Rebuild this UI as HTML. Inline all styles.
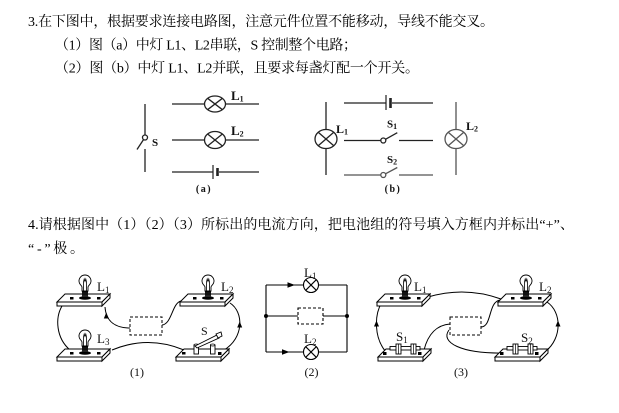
<!DOCTYPE html>
<html><head><meta charset="utf-8">
<style>
html,body{margin:0;padding:0;background:#fff;}
svg{display:block;}
.t{font-family:"Liberation Serif","Noto Serif CJK SC",serif;font-size:14px;fill:#000;}
.lb{font-family:"Liberation Serif",serif;fill:#111;}
</style></head><body>
<svg width="619" height="413" viewBox="0 0 619 413" xmlns="http://www.w3.org/2000/svg">
<defs>
  <g id="board">
    <polygon points="8,0 53,0 45,8 0,8" fill="#fff" stroke="#000" stroke-width="1"/>
    <polygon points="0,8 45,8 45,12 0,12" fill="#fff" stroke="#000" stroke-width="1"/>
    <polygon points="45,8 53,0 53,4 45,12" fill="#fff" stroke="#000" stroke-width="1"/>
  </g>
  <g id="lamp">
    <use href="#board"/>
    <rect x="13" y="3" width="3.5" height="2.5" fill="#000"/>
    <rect x="40" y="3" width="3.5" height="2.5" fill="#000"/>
    <ellipse cx="28" cy="4" rx="6" ry="1.8" fill="#000"/>
    <rect x="25" y="-3" width="6" height="6" fill="#222"/>
    <path d="M25 -3 L25 -7 C25 -8.5 22 -9.5 22 -13 A6 6 0 1 1 34 -13 C34 -9.5 31 -8.5 31 -7 L31 -3 Z" fill="#fff" stroke="#000" stroke-width="0.9"/>
    <path d="M26.5 -3 L26.5 -12 M29.5 -3 L29.5 -12 M26.5 -12 L27.2 -15 L28 -12.5 L28.8 -15 L29.5 -12" fill="none" stroke="#000" stroke-width="0.8"/>
    <line x1="25" y1="-2" x2="31" y2="-2" stroke="#000" stroke-width="1"/>
    <line x1="25" y1="0" x2="31" y2="0" stroke="#000" stroke-width="1"/>
  </g>
  <g id="ksw">
    <use href="#board"/>
    <rect x="6" y="3" width="3.5" height="2.5" fill="#000"/>
    <rect x="42" y="3" width="3.5" height="3" fill="#000"/>
    <rect x="18" y="-4" width="4.5" height="9" fill="#fff" stroke="#000" stroke-width="0.9"/>
    <ellipse cx="20.2" cy="-4" rx="2.2" ry="1" fill="#fff" stroke="#000" stroke-width="0.8"/>
    <rect x="34.5" y="-4" width="4.5" height="9" fill="#fff" stroke="#000" stroke-width="0.9"/>
    <ellipse cx="36.7" cy="-4" rx="2.2" ry="1" fill="#fff" stroke="#000" stroke-width="0.8"/>
    <polygon points="19,-3 41,-14 43,-11 21,-1" fill="#fff" stroke="#000" stroke-width="0.9"/>
    <polygon points="40,-15 45,-17 46,-13 42,-11" fill="#fff" stroke="#000" stroke-width="0.9"/>
  </g>
  <g id="hsw">
    <use href="#board"/>
    <rect x="5" y="3" width="3.5" height="3" fill="#000"/>
    <rect x="40" y="3" width="3.5" height="3" fill="#000"/>
    <rect x="12" y="-2.5" width="30" height="3.5" fill="#fff" stroke="#000" stroke-width="0.9"/>
    <rect x="18" y="-5" width="5" height="10" fill="#fff" stroke="#000" stroke-width="0.9"/>
    <rect x="33" y="-5" width="5" height="10" fill="#fff" stroke="#000" stroke-width="0.9"/>
    <line x1="20.5" y1="-5" x2="20.5" y2="5" stroke="#000" stroke-width="0.7"/>
    <line x1="35.5" y1="-5" x2="35.5" y2="5" stroke="#000" stroke-width="0.7"/>
  </g>
</defs>

<!-- Text -->
<text class="t" x="28" y="26" textLength="466" lengthAdjust="spacing">3.在下图中，根据要求连接电路图，注意元件位置不能移动，导线不能交叉。</text>
<text class="t" x="55" y="49.5" textLength="302" lengthAdjust="spacing">（1）图（a）中灯 L1、L2串联，S 控制整个电路；</text>
<text class="t" x="55" y="72.5" textLength="364" lengthAdjust="spacing">（2）图（b）中灯 L1、L2并联，且要求每盏灯配一个开关。</text>
<text class="t" x="28" y="229" textLength="546" lengthAdjust="spacing">4.请根据图中（1）（2）（3）所标出的电流方向，把电池组的符号填入方框内并标出“+”、</text>
<text class="t" x="28" y="253" textLength="56" lengthAdjust="spacing">“-”极。</text>

<!-- Diagram (a) -->
<g stroke="#222" stroke-width="1.3" fill="none">
  <line x1="145" y1="104" x2="145" y2="135"/>
  <circle cx="145" cy="137.5" r="2.5" fill="#fff"/>
  <line x1="143.5" y1="139.6" x2="137" y2="149.5"/>
  <line x1="145" y1="149" x2="145" y2="172"/>
  <line x1="172" y1="104" x2="204.5" y2="104"/>
  <line x1="225.5" y1="104" x2="259" y2="104"/>
  <ellipse cx="215" cy="104" rx="10.5" ry="8"/>
  <line x1="207.6" y1="98.3" x2="222.4" y2="109.7"/>
  <line x1="207.6" y1="109.7" x2="222.4" y2="98.3"/>
  <line x1="172" y1="140" x2="204.5" y2="140"/>
  <line x1="225.5" y1="140" x2="259" y2="140"/>
  <ellipse cx="215" cy="140" rx="10.5" ry="8.5"/>
  <line x1="207.6" y1="134" x2="222.4" y2="146"/>
  <line x1="207.6" y1="146" x2="222.4" y2="134"/>
  <line x1="172" y1="172" x2="212.5" y2="172"/>
  <line x1="213" y1="165" x2="213" y2="179" stroke-width="1.2"/>
  <line x1="217.5" y1="168" x2="217.5" y2="176" stroke-width="2.6"/>
  <line x1="219" y1="172" x2="259" y2="172"/>
</g>
<text class="lb" x="231" y="100" font-size="13" font-weight="bold">L<tspan font-size="8" dy="1.5">1</tspan></text>
<text class="lb" x="231" y="135" font-size="13" font-weight="bold">L<tspan font-size="8" dy="1.5">2</tspan></text>
<text class="lb" x="152" y="146" font-size="11" font-weight="bold">S</text>
<text class="lb" x="204" y="192" font-size="10" font-weight="bold" text-anchor="middle" letter-spacing="1.5">(a)</text>

<!-- Diagram (b) -->
<g stroke="#222" stroke-width="1.3" fill="none">
  <line x1="326" y1="102" x2="326" y2="129.5"/>
  <line x1="326" y1="148.5" x2="326" y2="175"/>
  <ellipse cx="326" cy="139" rx="11" ry="9.5"/>
  <line x1="318.2" y1="132.3" x2="333.8" y2="145.7"/>
  <line x1="318.2" y1="145.7" x2="333.8" y2="132.3"/>
  <line x1="344" y1="103" x2="385.5" y2="103"/>
  <line x1="386" y1="95" x2="386" y2="110" stroke-width="1.2"/>
  <line x1="390.5" y1="98" x2="390.5" y2="108" stroke-width="2.6"/>
  <line x1="392" y1="103" x2="433" y2="103"/>
  <line x1="344" y1="140.5" x2="380.8" y2="140.5"/>
  <circle cx="383.3" cy="140.5" r="2.5" fill="#fff"/>
  <line x1="385.5" y1="139.3" x2="397.3" y2="132.7"/>
  <line x1="399" y1="140.5" x2="433" y2="140.5"/>
</g>
<g stroke="#555" stroke-width="1.3" fill="none">
  <line x1="344" y1="175" x2="380.8" y2="175"/>
  <circle cx="383.3" cy="175" r="2.5" fill="#fff"/>
  <line x1="385.5" y1="173.8" x2="397.3" y2="167.5"/>
  <line x1="399" y1="175" x2="433" y2="175"/>
  <line x1="456" y1="102" x2="456" y2="129.5"/>
  <line x1="456" y1="148.5" x2="456" y2="175"/>
  <ellipse cx="456" cy="139" rx="11" ry="9.5"/>
  <line x1="448.2" y1="132.3" x2="463.8" y2="145.7"/>
  <line x1="448.2" y1="145.7" x2="463.8" y2="132.3"/>
</g>
<text class="lb" x="336" y="133" font-size="12" font-weight="bold">L<tspan font-size="8" dy="1.5">1</tspan></text>
<text class="lb" x="466" y="130" font-size="12" font-weight="bold">L<tspan font-size="8" dy="1.5">2</tspan></text>
<text class="lb" x="387" y="127.5" font-size="11" font-weight="bold">S<tspan font-size="8" dy="1.5">1</tspan></text>
<text class="lb" x="387" y="163" font-size="11" font-weight="bold">S<tspan font-size="8" dy="1.5">2</tspan></text>
<text class="lb" x="393" y="192" font-size="10" font-weight="bold" text-anchor="middle" letter-spacing="1.5">(b)</text>

<!-- Diagram (1) wires -->
<g stroke="#000" stroke-width="1" fill="none">
  <path d="M62 306 C55 318 56 338 70 350"/>
  <path d="M130 328 C116 328 106 322 105 307"/>
  <path d="M162 325 C172 324 172 303 181 301"/>
  <path d="M112 350 Q148 335 184 350"/>
  <path d="M230 303 C244 312 244 338 224 350"/>
  <rect x="130" y="317" width="32" height="18" stroke-dasharray="3,2"/>
</g>
<polygon points="106.3,312.5 103.8,318.5 108.8,318.5" fill="#000"/>
<polygon points="239.7,321.5 237.2,327.5 242.2,327.5" fill="#000"/>
<use href="#lamp" x="57" y="294"/>
<use href="#lamp" x="180" y="294"/>
<use href="#lamp" x="57" y="349"/>
<use href="#ksw" x="176" y="349"/>
<text class="lb" x="97" y="291" font-size="13">L<tspan font-size="9" dy="2">1</tspan></text>
<text class="lb" x="221" y="291" font-size="13">L<tspan font-size="9" dy="2">2</tspan></text>
<text class="lb" x="97" y="343" font-size="13">L<tspan font-size="9" dy="2">3</tspan></text>
<text class="lb" x="201" y="335" font-size="12">S</text>
<text class="lb" x="137" y="376" font-size="12" text-anchor="middle">(1)</text>

<!-- Diagram (2) -->
<g stroke="#000" stroke-width="1.1" fill="none">
  <line x1="266" y1="285" x2="266" y2="352"/>
  <line x1="347" y1="285" x2="347" y2="352"/>
  <line x1="266" y1="285" x2="303.5" y2="285"/>
  <line x1="318.5" y1="285" x2="347" y2="285"/>
  <line x1="266" y1="352" x2="303.5" y2="352"/>
  <line x1="318.5" y1="352" x2="347" y2="352"/>
  <line x1="266" y1="316" x2="298" y2="316"/>
  <line x1="323" y1="316" x2="347" y2="316"/>
  <circle cx="311" cy="285" r="7.5"/>
  <line x1="305.7" y1="279.7" x2="316.3" y2="290.3"/>
  <line x1="305.7" y1="290.3" x2="316.3" y2="279.7"/>
  <circle cx="311" cy="352" r="7.5"/>
  <line x1="305.7" y1="346.7" x2="316.3" y2="357.3"/>
  <line x1="305.7" y1="357.3" x2="316.3" y2="346.7"/>
  <rect x="298" y="308" width="25" height="16" stroke-dasharray="3,2"/>
</g>
<circle cx="266" cy="316" r="2" fill="#000"/>
<circle cx="347" cy="316" r="2" fill="#000"/>
<polygon points="295,285 287.5,282.3 287.5,287.7" fill="#000"/>
<polygon points="289.5,352 282,349.3 282,354.7" fill="#000"/>
<text class="lb" x="304" y="277" font-size="13">L<tspan font-size="9" dy="2">1</tspan></text>
<text class="lb" x="304" y="343" font-size="13">L<tspan font-size="9" dy="2">2</tspan></text>
<text class="lb" x="311.5" y="376" font-size="12" text-anchor="middle">(2)</text>

<!-- Diagram (3) wires -->
<g stroke="#000" stroke-width="1" fill="none">
  <path d="M428 297 Q465 286 501 299"/>
  <path d="M481 327 C492 327 488 302 500 300"/>
  <path d="M450 324 C437 325 428 334 424 350"/>
  <path d="M449 330 C440 342 460 354 506 353"/>
  <path d="M382 302 C374 315 374 338 386 352"/>
  <path d="M547 302 C562 312 562 338 546 351"/>
  <rect x="450" y="317" width="31" height="18" stroke-dasharray="3,2"/>
</g>
<polygon points="376.5,320.5 374,326.5 379,326.5" fill="#000"/>
<polygon points="558,320.5 555.5,326.5 560.5,326.5" fill="#000"/>
<use href="#lamp" x="377" y="294"/>
<use href="#lamp" x="498" y="294"/>
<use href="#hsw" x="378" y="349"/>
<use href="#hsw" x="495" y="349"/>
<text class="lb" x="414" y="291" font-size="13">L<tspan font-size="9" dy="2">1</tspan></text>
<text class="lb" x="539" y="291" font-size="13">L<tspan font-size="9" dy="2">2</tspan></text>
<text class="lb" x="396" y="341" font-size="13">S<tspan font-size="9" dy="2">1</tspan></text>
<text class="lb" x="521" y="342" font-size="13">S<tspan font-size="9" dy="2">2</tspan></text>
<text class="lb" x="461" y="376" font-size="12" text-anchor="middle">(3)</text>
</svg>
</body></html>
